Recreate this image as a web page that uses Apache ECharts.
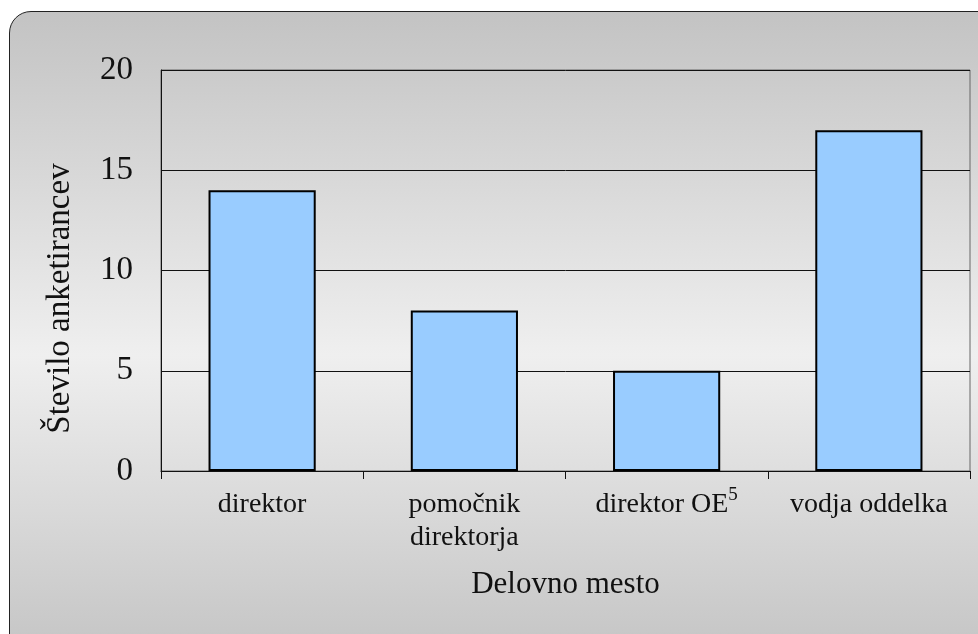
<!DOCTYPE html>
<html>
<head>
<meta charset="utf-8">
<script src="https://cdn.jsdelivr.net/npm/echarts@6/dist/echarts.min.js"></script>
<style>
  html, body { margin: 0; padding: 0; background: #fff; overflow: hidden; }
  .frame {
    position: absolute;
    left: 9px;
    top: 11px;
    width: 1010px;
    height: 660px;
    border: 1px solid #222;
    border-radius: 22px;
    background: linear-gradient(to bottom, #c3c3c3 0%, #efefef 52%, #c2c2c2 100%);
  }
  #chart { position: absolute; left: 0; top: 0; width: 978px; height: 634px; }
</style>
</head>
<body>
<div class="frame"></div>
<div id="chart"></div>
<script>
// Data
const categories = ['direktor', 'pomočnik\ndirektorja', 'direktor OE{sup|5}', 'vodja oddelka']
const respondents = [14, 8, 5, 17]
const yTicks = { min: 0, max: 20, interval: 5 }

const chart = echarts.init(document.getElementById('chart'))

const serif = '"Liberation Serif", "DejaVu Serif", serif'

const option = {
  backgroundColor: 'transparent',
  animation: false,
  grid: {
    left: 161,
    top: 70,
    right: 8,
    bottom: 163,
    show: true,
    backgroundColor: 'transparent',
    borderColor: '#666',
    borderWidth: 1
  },
  xAxis: {
    type: 'category',
    data: categories,
    name: 'Delovno mesto',
    nameLocation: 'middle',
    nameGap: 98,
    nameTextStyle: { fontFamily: serif, fontSize: 31, color: '#111' },
    axisLine: { lineStyle: { color: '#111', width: 1 } },
    axisTick: { show: true, length: 8, alignWithLabel: false, lineStyle: { color: '#111' } },
    axisLabel: {
      fontFamily: serif,
      fontSize: 28,
      color: '#111',
      margin: 17,
      lineHeight: 33,
      interval: 0,
      rich: {
        sup: { fontFamily: serif, fontSize: 19, color: '#111', padding: [0, 0, 18, 0] }
      }
    }
  },
  yAxis: {
    type: 'value',
    min: yTicks.min,
    max: yTicks.max,
    interval: yTicks.interval,
    name: 'Število anketirancev',
    nameLocation: 'middle',
    nameGap: 84,
    nameTextStyle: { fontFamily: serif, fontSize: 33, color: '#111', padding: [0, 56, 0, 0] },
    axisLine: { show: true, lineStyle: { color: '#111', width: 1 } },
    axisTick: { show: false },
    axisLabel: { fontFamily: serif, fontSize: 33, color: '#111', margin: 28 },
    splitLine: { lineStyle: { color: '#111', width: 1 } }
  },
  series: [
    {
      type: 'bar',
      data: respondents,
      barWidth: '53%',
      itemStyle: {
        color: '#99ccff',
        borderColor: '#000',
        borderWidth: 2
      }
    }
  ]
}

chart.setOption(option)
</script>
</body>
</html>
